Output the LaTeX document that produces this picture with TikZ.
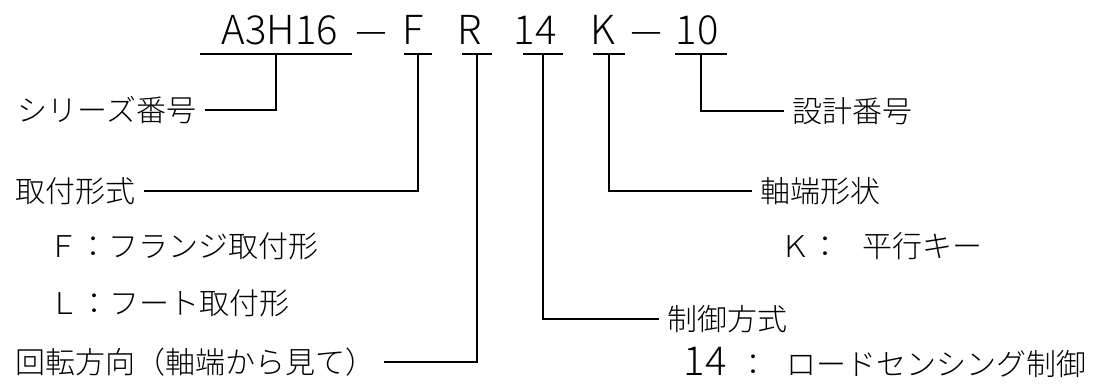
\documentclass[tikz,border=0pt]{standalone}
\usepackage{fontspec}
\setmainfont{Noto Sans CJK JP Light}
\usepackage{tikz}
\usetikzlibrary{positioning}

\begin{document}
\begin{tikzpicture}[x=1pt, y=-1pt, line width=1.2pt,
    code/.style={font=\fontsize{40}{40}\selectfont, anchor=base, inner sep=0pt},
    bar/.style={inner sep=0pt, outer sep=0pt, minimum height=0pt},
    lbl/.style={font=\fontsize{30}{30}\selectfont, anchor=west, inner xsep=8pt, inner ysep=0pt}]
            \useasboundingbox (0,0) rectangle (1112,388);

            \draw (280,45) node[code]                     (a3h16) {A3H16};
            \draw (371,45) node[code]                     (dashA) {\scalebox{1.6}[1]{–}};
            \draw (413,45) node[code]                     (f) {F};
            \draw (470,45) node[code]                     (r) {R};
            \draw (535,45) node[code]                     (n14) {14};
            \draw (603,45) node[code]                     (k) {K};
            \draw (646,45) node[code]                     (dashB) {\scalebox{1.6}[1]{–}};
            \draw (697,45) node[code]                     (n10) {10};

            \draw (276,54) node[bar, minimum width=152pt] (ua3h16) {};
            \draw (418,54) node[bar, minimum width=28pt]  (uf) {};
            \draw (477,54) node[bar, minimum width=30pt]  (ur) {};
            \draw (543,54) node[bar, minimum width=40pt]  (un14) {};
            \draw (609,54) node[bar, minimum width=32pt]  (uk) {};
            \draw (701,54) node[bar, minimum width=52pt]  (un10) {};

            \draw (9,110) node[lbl]                       (series) {シリーズ番号};
            \draw (7,191) node[lbl]                       (mount) {取付形式};
            \draw (40,246) node[lbl]                      (mountF) {Ｆ：フランジ取付形};
            \draw (41,303) node[lbl]                      (mountL) {Ｌ：フート取付形};
            \draw (7,362) node[lbl]                       (rot) {回転方向（軸端から見て）};
            \draw (784,111) node[lbl]                     (design) {設計番号};
            \draw (752,191) node[lbl]                     (shaft) {軸端形状};
            \draw (772,246) node[lbl]                     (shaftK) {Ｋ：\hspace{22pt}平行キー};
            \draw (659,319) node[lbl]                     (ctrl) {制御方式};
            \draw (675,362) node[lbl]                     (ctrl14) {{\fontsize{40}{40}\selectfont 14}\hspace{12pt}：\hspace{18pt}ロードセンシング制御};

            \foreach \u in {ua3h16, uf, ur, un14, uk, un10}
                \draw (\u.west) -- (\u.east);

            \draw (ua3h16) |- (series.east);
            \draw (uf) |- (mount.east);
            \draw (ur) |- (rot.east);
            \draw (un14) |- (ctrl.west);
            \draw (uk) |- (shaft.west);
            \draw (un10) |- (design.west);

            \end{tikzpicture}
\end{document}
